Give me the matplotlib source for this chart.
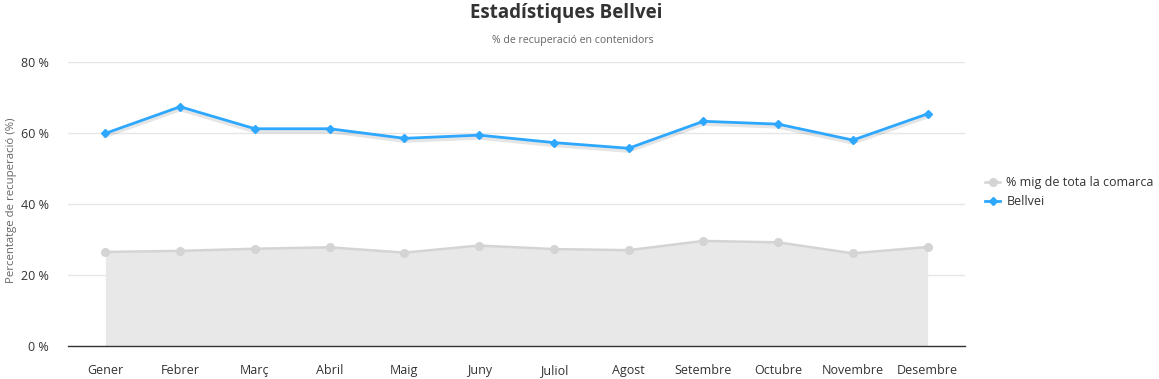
import matplotlib
matplotlib.use('Agg')
import matplotlib.pyplot as plt
import numpy as np

months = ['Gener', 'Febrer', 'Març', 'Abril', 'Maig', 'Juny', 'Juliol',
          'Agost', 'Setembre', 'Octubre', 'Novembre', 'Desembre']
comarca = [26.5, 26.8, 27.4, 27.8, 26.3, 28.3, 27.3, 27.0, 29.6, 29.2, 26.1, 27.9]
bellvei = [59.9, 67.4, 61.2, 61.2, 58.5, 59.4, 57.3, 55.7, 63.3, 62.5, 58.0, 65.4]
y_ticks = [0, 20, 40, 60, 80]

plt.rcParams['font.family'] = ['Open Sans', 'DejaVu Sans']

W, H = 1159, 379
fig = plt.figure(figsize=(W / 100, H / 100), dpi=100)
ax = fig.add_axes([68 / W, 1 - 346 / H, (965 - 68) / W, (346 - 62) / H])

x = np.arange(len(months))

# area for the comarca average
ax.fill_between(x, 0, comarca, color='#e8e8e8', lw=0, zorder=1)
ax.plot(x, comarca, color='#d4d4d4', lw=1.8, marker='o', ms=5.5,
        mfc='#d4d4d4', mec='#d4d4d4', zorder=2, label='% mig de tota la comarca')

# soft shadow under the blue line (line only, slightly shifted down)
ax.plot(x, np.array(bellvei) - 0.6, color='black', alpha=0.1, lw=3.5,
        zorder=3, solid_joinstyle='round')
ax.plot(x, bellvei, color='#2ea8ff', lw=2, marker='D', ms=4.5,
        mfc='#2ea8ff', mec='#2ea8ff', zorder=4, label='Bellvei')

ax.set_xlim(-0.5, len(months) - 0.5)
ax.set_ylim(0, 80)
ax.set_xticks(x)
ax.set_xticklabels(months)
ax.set_yticks(y_ticks)
ax.set_yticklabels([f'{v} %' for v in y_ticks])
ax.tick_params(axis='both', length=0, labelsize=9, colors='#333333')
ax.tick_params(axis='x', pad=13)
ax.tick_params(axis='y', pad=14)
ax.grid(axis='y', color='#e6e6e6', lw=1, zorder=0)
ax.set_axisbelow(True)
for s in ['top', 'right', 'left']:
    ax.spines[s].set_visible(False)
ax.spines['bottom'].set_color('#333333')
ax.spines['bottom'].set_linewidth(1)

fig.text(12 / W, 1 - 200 / H, 'Percentatge de recuperació (%)', rotation=90,
         ha='center', va='center', fontsize=8.2, color='#666666')

fig.text(566 / W, 1 - 13 / H, 'Estadístiques Bellvei', ha='center', va='center',
         fontsize=13.5, fontweight='bold', color='#333333')
fig.text(573 / W, 1 - 40 / H, '% de recuperació en contenidors', ha='center', va='center',
         fontsize=7.6, color='#666666')

leg = ax.legend(loc='center left', bbox_to_anchor=(979 / W, 1 - 192 / H),
                bbox_transform=fig.transFigure, frameon=False, fontsize=9,
                handlelength=1.2, handletextpad=0.5, labelspacing=0.5, borderpad=0)
for t in leg.get_texts():
    t.set_color('#333333')

fig.savefig('out.png', dpi=100)
